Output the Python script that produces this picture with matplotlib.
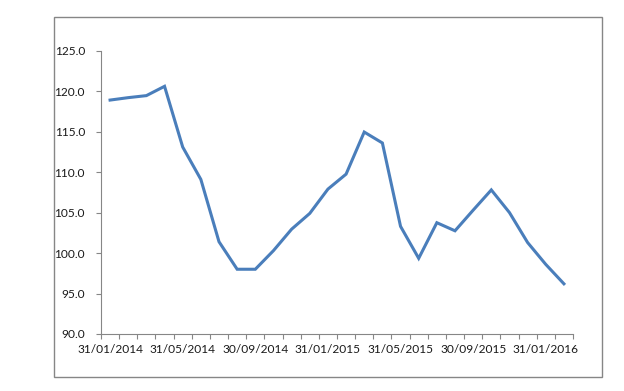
import numpy as np
import matplotlib.pyplot as plt
from matplotlib.patches import Rectangle

dates = ['31/01/2014', '28/02/2014', '31/03/2014', '30/04/2014', '31/05/2014', '30/06/2014',
         '31/07/2014', '31/08/2014', '30/09/2014', '31/10/2014', '30/11/2014', '31/12/2014',
         '31/01/2015', '28/02/2015', '31/03/2015', '30/04/2015', '31/05/2015', '30/06/2015',
         '31/07/2015', '31/08/2015', '30/09/2015', '31/10/2015', '30/11/2015', '31/12/2015',
         '31/01/2016', '29/02/2016']
valeurs = [118.9, 119.2, 119.45, 120.6, 113.1, 109.1, 101.4, 98.0, 98.0, 100.3,
           102.95, 104.9, 107.9, 109.75, 114.95, 113.6, 103.3, 99.35, 103.75, 102.75,
           105.3, 107.8, 105.0, 101.3, 98.6, 96.2]
yticks = [90, 95, 100, 105, 110, 115, 120, 125]

plt.rcParams['font.family'] = ['Lato', 'DejaVu Sans']
gris = '#868686'

fig = plt.figure(figsize=(6.24, 3.91), dpi=100)
# cadre gris autour du graphique
fig.patches.append(Rectangle((54 / 624, 14 / 391), 548 / 624, 360 / 391,
                             transform=fig.transFigure, fill=False,
                             edgecolor=gris, linewidth=1.0))

ax = fig.add_axes([101 / 624, 57 / 391, 472 / 624, 283.3 / 391])
x = np.arange(len(valeurs))
ax.plot(x, valeurs, color='#4a7ebb', linewidth=2.2, solid_joinstyle='miter')

ax.set_xlim(-0.5, len(valeurs) - 0.5)
ax.set_ylim(90, 125)
ax.set_yticks(yticks)
ax.set_yticklabels(['%.1f' % v for v in yticks])

ax.set_xticks(x[::4])
ax.set_xticklabels(dates[::4])
ax.set_xticks(np.arange(-0.5, len(valeurs)), minor=True)
ax.tick_params(axis='x', which='major', length=0, pad=7)
ax.tick_params(axis='x', which='minor', length=3.5, color=gris, width=0.8)
ax.tick_params(axis='y', length=3.5, color=gris, width=0.8, pad=8)
ax.tick_params(labelsize=8.6, labelcolor='#1a1a1a')

for s in ['top', 'right']:
    ax.spines[s].set_visible(False)
for s in ['left', 'bottom']:
    ax.spines[s].set_color(gris)
    ax.spines[s].set_linewidth(0.8)

fig.savefig('out.png', dpi=100)
